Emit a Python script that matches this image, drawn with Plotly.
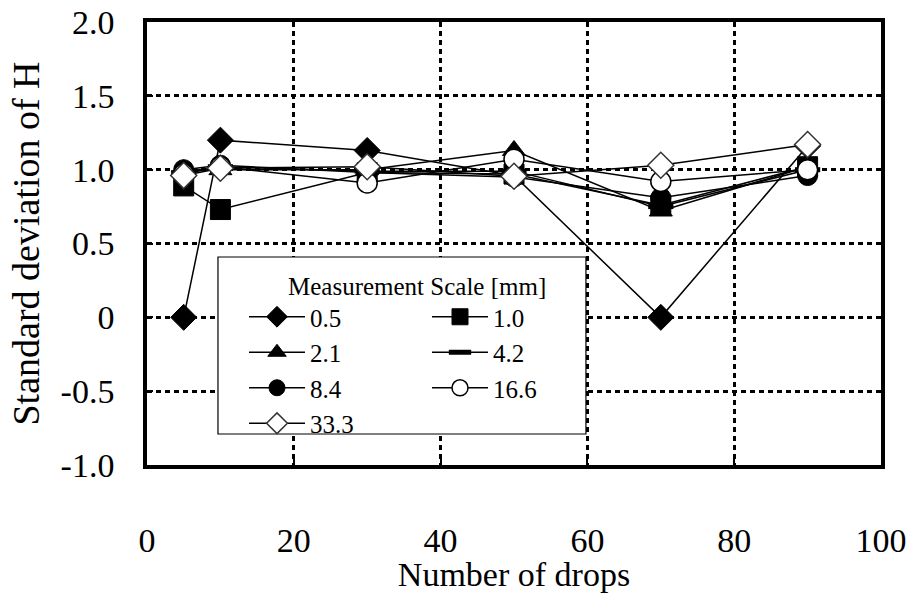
import plotly.graph_objects as go

# Number of drops on the x axis
drops = [5, 10, 30, 50, 70, 90]

# Standard deviation of H for each measurement scale [mm]
scale_names = ["0.5", "1.0", "2.1", "4.2", "8.4", "16.6", "33.3"]
sd_0_5 = [0.00, 1.20, 1.13, 0.96, 0.00, 1.16]
sd_1_0 = [0.89, 0.73, 0.98, 0.97, 0.76, 1.02]
sd_2_1 = [1.00, 1.00, 1.00, 1.13, 0.72, 1.02]
sd_4_2 = [0.98, 1.02, 0.99, 0.99, 0.75, 1.00]
sd_8_4 = [1.00, 1.03, 0.98, 0.95, 0.81, 0.96]
sd_16_6 = [0.97, 1.02, 0.91, 1.07, 0.92, 1.00]
sd_33_3 = [0.96, 1.01, 1.02, 0.955, 1.03, 1.17]

x_ticks = [0, 20, 40, 60, 80, 100]
x_ticktext = ["0", "20", "40", "60", "80", "100"]
y_ticks = [-1.0, -0.5, 0, 0.5, 1.0, 1.5, 2.0]
y_ticktext = ["-1.0", "-0.5", "0", "0.5", "1.0", "1.5", "2.0"]

FONT = "Liberation Serif"

series = [sd_0_5, sd_1_0, sd_2_1, sd_4_2, sd_8_4, sd_16_6, sd_33_3]
styles = [
    dict(symbol="diamond", size=20, color="black", line=dict(color="black", width=1)),
    dict(symbol="square", size=20, color="black", line=dict(color="black", width=1)),
    dict(symbol="triangle-up", size=20, color="black", line=dict(color="black", width=1)),
    dict(symbol="line-ew", size=18, color="black", line=dict(color="black", width=5)),
    dict(symbol="circle", size=20, color="black", line=dict(color="black", width=1)),
    dict(symbol="circle", size=20, color="white", line=dict(color="black", width=1.5)),
    dict(symbol="diamond", size=20, color="white", line=dict(color="#333333", width=1.5)),
]
legend_ids = ["legend", "legend2", "legend", "legend2", "legend", "legend2", "legend"]

fig = go.Figure()
for name, vals, mk, lg in zip(scale_names, series, styles, legend_ids):
    fig.add_trace(go.Scatter(
        x=drops, y=vals, name=name, mode="lines+markers",
        line=dict(color="black", width=1.5),
        marker=mk, legend=lg,
    ))

# White legend box with its heading
fig.add_shape(type="rect", xref="paper", yref="paper",
              x0=0.0967, x1=0.598, y0=0.070, y1=0.4695,
              fillcolor="white", line=dict(color="black", width=1.2), layer="above")
fig.add_annotation(text="Measurement Scale [mm]", xref="paper", yref="paper",
                   x=0.3685, y=0.404, showarrow=False,
                   font=dict(family=FONT, size=25, color="black"))

legend_common = dict(bgcolor="rgba(0,0,0,0)", borderwidth=0, itemwidth=56,
                     font=dict(family=FONT, size=25, color="black"),
                     xanchor="left", yanchor="top", tracegroupgap=0)

fig.update_layout(
    width=916, height=593,
    margin=dict(l=147, r=35, t=22, b=128),
    paper_bgcolor="white", plot_bgcolor="white",
    showlegend=True,
    legend=dict(x=(244 - 147) / 734, y=0.386, **legend_common),
    legend2=dict(x=(427 - 147) / 734, y=0.386, **legend_common),
    font=dict(family=FONT, color="black"),
)

grid_dash = "5px,4px"
fig.update_xaxes(
    range=[0, 100], tickvals=x_ticks, ticktext=x_ticktext,
    showgrid=True, gridcolor="black", gridwidth=3, griddash=grid_dash,
    showline=True, linecolor="black", linewidth=3.5, mirror=True,
    ticks="inside", ticklen=6, tickwidth=2, tickcolor="black",
    tickfont=dict(family=FONT, size=34, color="black"),
    ticklabelstandoff=42, zeroline=False, automargin=False,
    title=dict(text="Number of drops", font=dict(family=FONT, size=34, color="black"), standoff=0),
)
fig.update_yaxes(
    range=[-1.0, 2.0], tickvals=y_ticks, ticktext=y_ticktext,
    showgrid=True, gridcolor="black", gridwidth=3, griddash=grid_dash,
    showline=True, linecolor="black", linewidth=3.5, mirror=True,
    ticks="inside", ticklen=6, tickwidth=2, tickcolor="black",
    tickfont=dict(family=FONT, size=34, color="black"),
    ticklabelstandoff=22, zeroline=False, automargin=False,
    title=dict(text="Standard deviation of H", font=dict(family=FONT, size=38, color="black"), standoff=10),
)

fig.write_html("out.html")
